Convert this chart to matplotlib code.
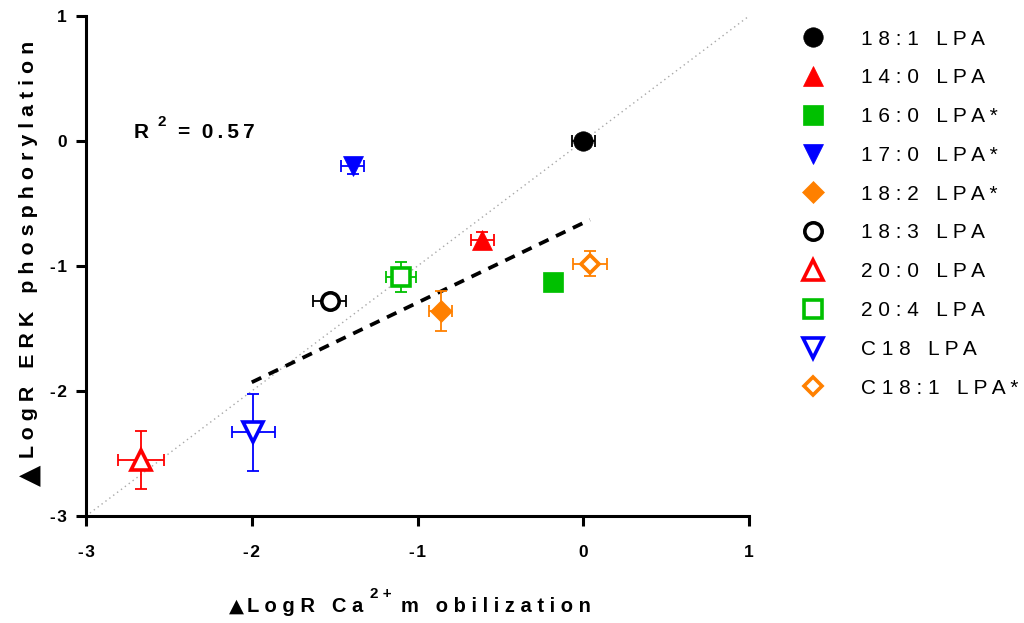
import matplotlib
matplotlib.use("Agg")
import matplotlib.pyplot as plt
from matplotlib.lines import Line2D
from matplotlib.transforms import IdentityTransform

plt.rcParams['font.family'] = ['Liberation Sans', 'DejaVu Sans']

labels = ["18:1 LPA", "14:0 LPA", "16:0 LPA*", "17:0 LPA*", "18:2 LPA*",
          "18:3 LPA", "20:0 LPA", "20:4 LPA", "C18 LPA", "C18:1 LPA*"]
x_vals = [0.00, -0.61, -0.18, -1.39, -0.86, -1.53, -2.67, -1.10, -1.99, 0.04]
y_vals = [0.00, -0.79, -1.13, -0.20, -1.36, -1.28, -2.55, -1.09, -2.33, -0.98]
x_err = [0.07, 0.07, 0.05, 0.07, 0.07, 0.10, 0.14, 0.09, 0.13, 0.10]
y_err = [0.04, 0.06, 0.06, 0.06, 0.16, 0.04, 0.23, 0.12, 0.31, 0.10]
colors = ["#000000", "#FF0000", "#00C000", "#0000FF", "#FF8000",
          "#000000", "#FF0000", "#00C000", "#0000FF", "#FF8000"]
markers = ["o", "^", "s", "v", "D", "o", "^", "s", "v", "D"]
filled = [True, True, True, True, True, False, False, False, False, False]
msizes = [14, 15, 15, 15, 11, 14, 15.5, 14, 15.5, 10.5]

fit_x = [-2.0, 0.04]
fit_y = [-1.93, -0.63]
identity = [-3, 1]
ticks = [-3, -2, -1, 0, 1]
tick_labels = ["-\u200a3", "-\u200a2", "-\u200a1", "0", "1"]
r2_text = "0.57"

fig = plt.figure(figsize=(10.24, 6.23), dpi=100)
ax = fig.add_axes([0.084, 0.1717, 0.6475, 0.8026])

ax.plot(identity, identity, linestyle=(0, (1, 2.5)), color="#a8a8a8", lw=1.0, zorder=1)
ax.plot(fit_x, fit_y, linestyle=(0, (2.8, 2.2)), color="black", lw=2.7, zorder=2)

handles = []
for i in range(len(labels)):
    c = colors[i]
    ax.errorbar(x_vals[i], y_vals[i], xerr=x_err[i], yerr=y_err[i], fmt="none",
                ecolor=c, elinewidth=1.3, capsize=4.2, capthick=1.3,
                zorder=5 if filled[i] else 3)
    if filled[i]:
        kw = dict(marker=markers[i], ms=msizes[i], color=c, mec=c, mew=0.5, linestyle="none")
    else:
        kw = dict(marker=markers[i], ms=msizes[i] - 1.5, mfc="white", mec=c, mew=2.6,
                  linestyle="none")
    ax.plot(x_vals[i], y_vals[i], zorder=4, **kw)
    handles.append(Line2D([], [], **kw))

ax.set_xlim(-3, 1)
ax.set_ylim(-3, 1)
ax.set_xticks(ticks)
ax.set_yticks(ticks)
ax.set_xticklabels(tick_labels, fontweight="bold", fontsize=12.5)
ax.set_yticklabels(tick_labels, fontweight="bold", fontsize=12.5)
for s in ["top", "right"]:
    ax.spines[s].set_visible(False)
for s in ["left", "bottom"]:
    ax.spines[s].set_linewidth(2.2)
ax.tick_params(direction="out", length=7, width=2.2)
ax.tick_params(axis="x", pad=14)
ax.tick_params(axis="y", pad=7)


def spaced(s, sep=" "):
    return sep.join(list(s))


H = 623
px = IdentityTransform()
renderer = fig.canvas.get_renderer()

# y axis label (pieces: triangle + letter-spaced text)
fig.text(37, H - 486, "▲", family="DejaVu Sans", fontsize=20, rotation=90,
         rotation_mode="anchor", ha="left", va="baseline", transform=px)
fig.text(34, H - 458, spaced("LogR ERK phosphorylation"), fontweight="bold",
         fontsize=15.4, rotation=90, rotation_mode="anchor", ha="left",
         va="baseline", transform=px)

# x axis label
t1 = fig.text(229, H - 612, "▲", family="DejaVu Sans", fontsize=14, ha="left",
              va="baseline", transform=px)
t2 = fig.text(247, H - 612, spaced("LogR Ca"), fontweight="bold", fontsize=14.5,
              ha="left", va="baseline", transform=px)
bb = t2.get_window_extent(renderer)
t3 = fig.text(bb.x1 + 7, H - 598, spaced("2+"), fontweight="bold", fontsize=11,
              ha="left", va="baseline", transform=px)
bb = t3.get_window_extent(renderer)
fig.text(bb.x1 + 9, H - 612, spaced("m obilization"), fontweight="bold", fontsize=14.5,
         ha="left", va="baseline", transform=px)

# R^2 annotation
r1 = fig.text(134, H - 138, "R", fontweight="bold", fontsize=15, ha="left",
              va="baseline", transform=px)
bb = r1.get_window_extent(renderer)
r2 = fig.text(bb.x1 + 8, H - 126, "2", fontweight="bold", fontsize=11, ha="left",
              va="baseline", transform=px)
bb = r2.get_window_extent(renderer)
fig.text(bb.x1 + 12, H - 138, "=  " + spaced(r2_text, "\u2009"), fontweight="bold",
         fontsize=15, ha="left", va="baseline", transform=px)

leg = fig.legend(handles, [spaced(l) for l in labels], loc="upper left",
                 bbox_to_anchor=(0.770, 0.966), frameon=False, fontsize=15,
                 labelspacing=0.95, handletextpad=1.5, handlelength=1.6,
                 borderaxespad=0)

fig.savefig("out.png", dpi=100)
